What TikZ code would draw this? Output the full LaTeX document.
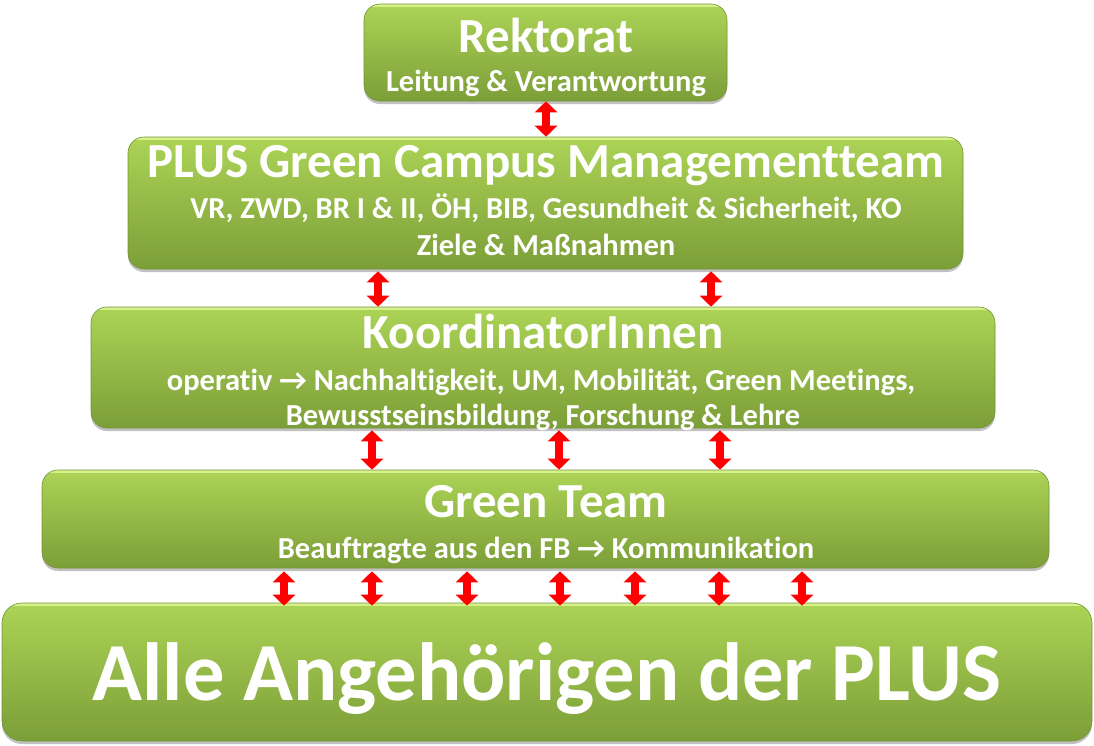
\documentclass[tikz,border=0pt]{standalone}
\usepackage{fontspec}
\setmainfont{Carlito}[Ligatures=NoCommon]
\newfontfamily\arrfont{DejaVu Sans}
\usetikzlibrary{arrows.meta,shadows,calc}
\definecolor{gtop}{RGB}{172,212,86}
\definecolor{gbot}{RGB}{124,158,56}
\definecolor{grim}{RGB}{214,240,140}
\definecolor{gedge}{RGB}{118,148,54}
\newcommand{\rar}{→}
\begin{document}
\begin{tikzpicture}[x=1pt,y=-1pt,
  box/.style={rounded corners=16pt, top color=gtop, bottom color=gbot,
    draw=gedge, line width=0.6pt, inner sep=0pt,
    drop shadow={shadow xshift=0pt, shadow yshift=-3pt, opacity=0.35, fill=black!70},
    path picture={\draw[grim, line width=2.5pt]
      ([yshift=-1.3pt]path picture bounding box.north west) --
      ([yshift=-1.3pt]path picture bounding box.north east);}},
  ttl/.style={text=white, font=\bfseries\fontsize{49}{49}\selectfont, anchor=base, inner sep=0pt},
  sub/.style={text=white, font=\bfseries\fontsize{30.5}{30.5}\selectfont, anchor=base, inner sep=0pt},
  big/.style={text=white, font=\bfseries\fontsize{82.5}{82.5}\selectfont, anchor=base, inner sep=0pt},
  dbl/.style={draw=red, line width=8pt,
    {Triangle[width=22pt,length=11pt]}-{Triangle[width=22pt,length=11pt]}}
]
\useasboundingbox (0,0) rectangle (1094,745);
% boxes
\node[box, minimum width=363pt, minimum height=97pt] (rek) at (545.5,52.5) {};
\node[box, minimum width=835pt, minimum height=132pt] (plus) at (545.5,203) {};
\node[box, minimum width=904pt, minimum height=121pt] (koord) at (543,367.5) {};
\node[box, minimum width=1007pt, minimum height=98pt] (green) at (545.5,519) {};
\node[box, rounded corners=20pt, minimum width=1090pt, minimum height=138pt] (alle) at (547,672) {};
% texts
\node[ttl] (rekT) at (546,52) {Rektorat};
\node[sub] (rekS) at (546,91) {Leitung \& Verantwortung};
\node[ttl] (plusT) at (546,177) {PLUS Green Campus Managementteam};
\node[sub] (plusS1) at (546,218) {VR, ZWD, BR I \& II, ÖH, BIB, Gesundheit \& Sicherheit, KO};
\node[sub] (plusS2) at (546,255) {Ziele \& Maßnahmen};
\node[ttl] (koordT) at (543,348) {KoordinatorInnen};
\node[sub] (koordS1) at (541,390) {operativ \rar{} Nachhaltigkeit, UM, Mobilität, Green Meetings,};
\node[sub] (koordS2) at (543,425) {Bewusstseinsbildung, Forschung \& Lehre};
\node[ttl] (greenT) at (546,517) {Green Team};
\node[sub] (greenS) at (546,558) {Beauftragte aus den FB \rar{} Kommunikation};
\node[big] (alleT) at (547,700) {Alle Angehörigen der PLUS};
% arrows
\draw[dbl] (rek.south -| 546,0) -- (plus.north -| 546,0);
\foreach \x in {378,711}
  \draw[dbl] (plus.south -| \x,0) ++(0,2) -- (koord.north -| \x,0);
\foreach \x in {372,559,720}
  \draw[dbl] (koord.south -| \x,0) ++(0,2) -- (green.north -| \x,0);
\foreach \x in {284,372,467,560,635,719,802}
  \draw[dbl] (green.south -| \x,0) ++(0,3) -- ($(alle.north -| \x,0)+(0,3)$);
\end{tikzpicture}
\end{document}
